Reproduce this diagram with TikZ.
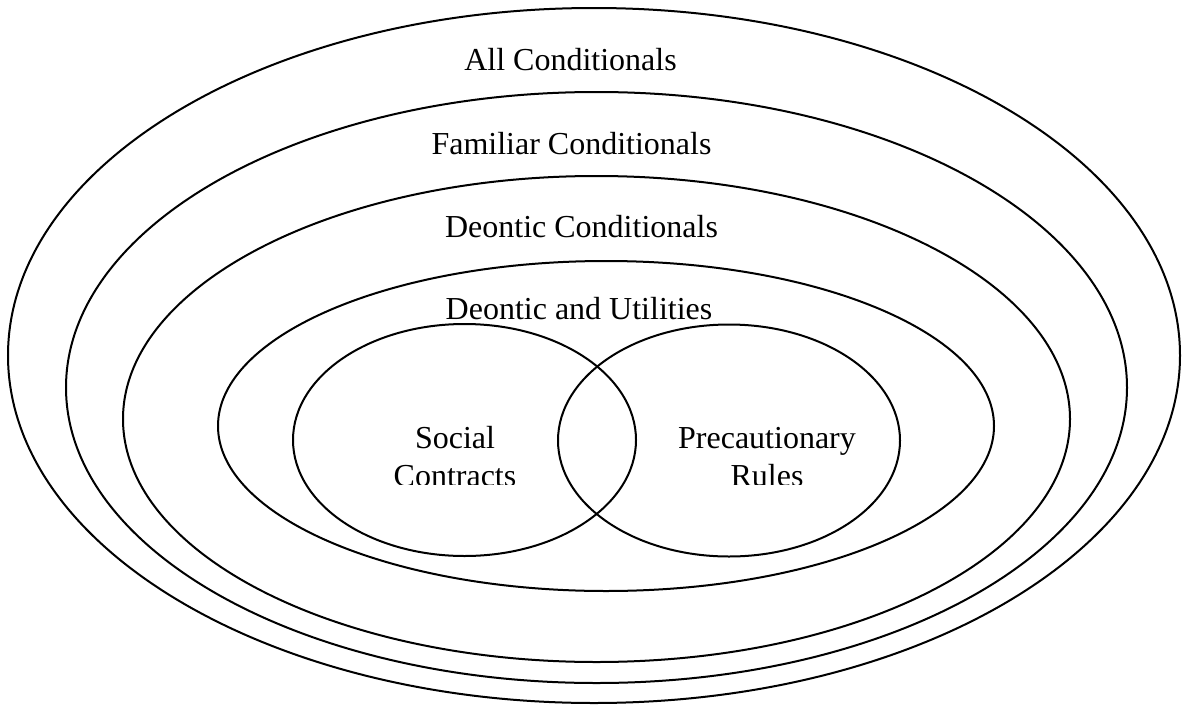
\documentclass[tikz,border=0pt]{standalone}
\usepackage{fontspec}
\setmainfont{Liberation Serif}
\tikzset{
  ring/.style={line width=1pt},
  lbl/.style={font=\fontsize{16}{19}\selectfont, inner sep=0pt, anchor=base, align=center},
}
\begin{document}
\begin{tikzpicture}[x=0.5pt,y=-0.5pt]
		%%%%% START %%%%%
		\useasboundingbox (0,0) rectangle (1184,707);
		
		\draw[ring] (594,355.5) ellipse [x radius=586, y radius=347.5];
		\draw[ring] (596.5,387.5) ellipse [x radius=530.5, y radius=295.5];
		\draw[ring] (596.5,419) ellipse [x radius=473.5, y radius=243];
		\draw[ring] (606,426) ellipse [x radius=388, y radius=165];
		
		\draw[ring] (464.5,440) ellipse [x radius=171.5, y radius=116];
		\draw[ring] (729,440.5) ellipse [x radius=171, y radius=116];
		
		\node[lbl] (all) at (570.5,70) {All Conditionals};
		\node[lbl] (familiar) at (571.5,154) {Familiar Conditionals};
		\node[lbl] (deontic) at (581.5,237) {Deontic Conditionals};
		\node[lbl] (utilities) at (579,319) {Deontic and Utilities};
		
		% the last lines are cut off at the bottom
		\begin{scope}
			\clip (0,0) rectangle (1184,484);
			\node[lbl] (social) at (455,486) {Social\\Contracts};
			\node[lbl] (precaution) at (767,486) {Precautionary\\Rules};
		\end{scope}
		
		%%%%% END %%%%%
\end{tikzpicture}
\end{document}
